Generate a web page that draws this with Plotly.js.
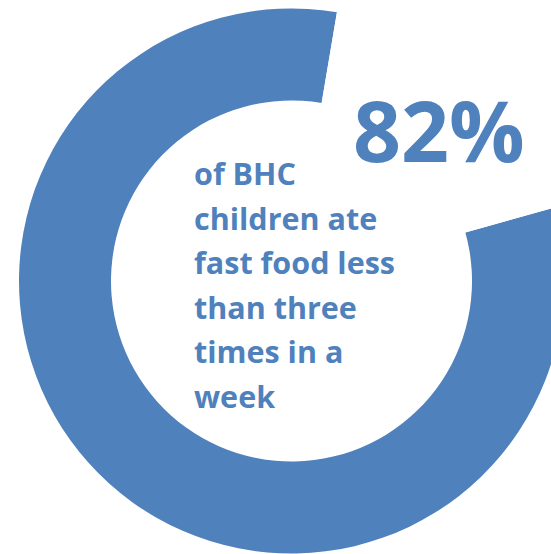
<!DOCTYPE html>
<html><head><meta charset="utf-8">
<script src="https://cdn.plot.ly/plotly-3.0.1.min.js"></script>
<style>html,body{margin:0;padding:0;overflow:hidden;background:#fff}#chart{width:580px;height:554px}</style>
</head><body><div id="chart"></div>
<script>
const labels = ["Less than three times a week", "Three or more times a week"];
const values = [82, 18];
const sliceColors = ["#4F81BD", "#FFFFFF"];
const headline = "82%";
const textLines = ["of BHC", "children ate", "fast food less", "than three", "times in a", "week"];

const W = 580, H = 554;
const cx = 291.5, cy = 281, R = 272.5, r = 180.5;
const px = x => x / W;
const py = y => 1 - y / H;

const trace = {
  type: "pie",
  labels: labels,
  values: values,
  sort: false,
  direction: "clockwise",
  rotation: 74.4,
  hole: r / R,
  marker: {colors: sliceColors, line: {width: 0}},
  textinfo: "none",
  hoverinfo: "skip",
  showlegend: false,
  domain: {x: [px(cx - R), px(cx + R)], y: [py(cy + R), py(cy - R)]}
};

const blue = "#4F81BD";
const annotations = [{
  text: headline,
  xref: "paper", yref: "paper",
  x: px(439), y: py(129),
  xanchor: "center", yanchor: "middle",
  showarrow: false,
  font: {family: "Open Sans", size: 84, weight: 700, color: blue}
}];
const lineY0 = 173, lineGap = 44.6;
textLines.forEach((t, i) => {
  annotations.push({
    text: t,
    xref: "paper", yref: "paper",
    x: px(192), y: py(lineY0 + i * lineGap),
    xanchor: "left", yanchor: "middle",
    showarrow: false,
    font: {family: "Open Sans", size: 30.5, weight: 700, color: blue}
  });
});

Plotly.newPlot("chart", [trace], {
  width: W, height: H,
  margin: {l: 0, r: 0, t: 0, b: 0},
  paper_bgcolor: "#fff",
  annotations: annotations
}, {staticPlot: true});
</script></body></html>
